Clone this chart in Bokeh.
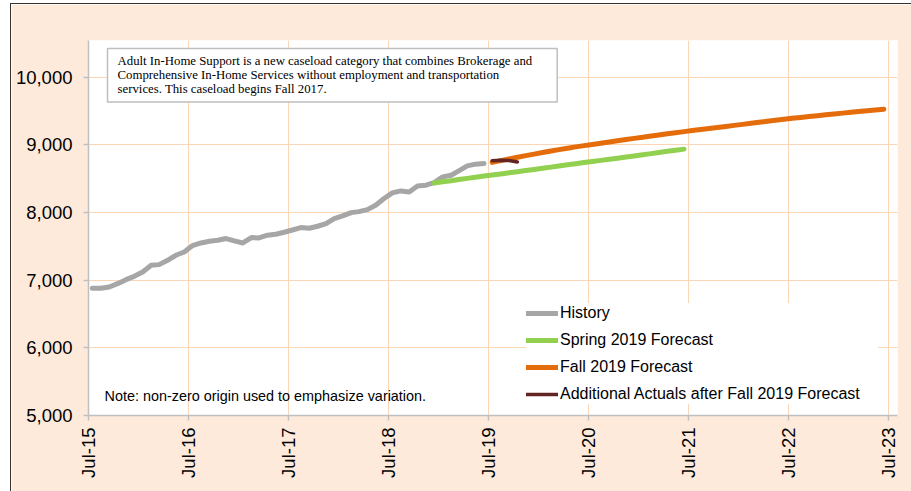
import math
import pandas as pd
from bokeh.plotting import figure
from bokeh.models import (Range1d, FixedTicker, DatetimeTickFormatter, NumeralTickFormatter,
                          Legend, LegendItem, Label)
from bokeh.embed import file_html
from bokeh.resources import INLINE

# ---------------- data ----------------
history_start = "2015-07-01"
history = [6879, 6879, 6898, 6948, 7007, 7056, 7120, 7219, 7229, 7293, 7367, 7416,
           7510, 7549, 7574, 7589, 7614, 7579, 7549, 7628, 7623, 7663, 7677, 7707,
           7740, 7776, 7766, 7796, 7835, 7909, 7948, 7997, 8012, 8042, 8106, 8205,
           8288, 8318, 8303, 8392, 8402, 8442, 8525, 8550, 8614, 8688, 8713, 8723]

spring_start = "2018-12-01"
spring = [8435, 8452, 8469, 8486, 8503, 8520, 8537, 8553, 8569, 8585, 8601, 8618,
          8635, 8652, 8669, 8686, 8703, 8720, 8737, 8753, 8769, 8785, 8801, 8818,
          8835, 8852, 8869, 8886, 8903, 8919, 8935]

fall_start = "2019-07-01"
fall = [8740, 8766, 8791, 8815, 8839, 8862, 8885, 8907, 8928, 8948, 8968, 8987,
        9005, 9023, 9041, 9059, 9077, 9094, 9111, 9128, 9145, 9162, 9178, 9194,
        9210, 9226, 9241, 9256, 9271, 9286, 9301, 9316, 9331, 9346, 9361, 9376,
        9390, 9403, 9416, 9429, 9442, 9455, 9467, 9479, 9491, 9503, 9514, 9525]

actuals_start = "2019-07-01"
actuals = [8765, 8772, 8768, 8745]

tick_dates = ["2015-07-01", "2016-07-01", "2017-07-01", "2018-07-01", "2019-07-01",
              "2020-07-01", "2021-07-01", "2022-07-01", "2023-07-01"]
y_ticks = [5000, 6000, 7000, 8000, 9000, 10000]

series_names = ["History", "Spring 2019 Forecast", "Fall 2019 Forecast",
                "Additional Actuals after Fall 2019 Forecast"]
series_colors = ["#A6A6A6", "#92D050", "#E46C0A", "#632523"]

note_text = ("Adult In-Home Support is a new caseload category that combines Brokerage and\n"
             "Comprehensive In-Home Services without employment and transportation\n"
             "services. This caseload begins Fall 2017.")
origin_note = "Note: non-zero origin used to emphasize variation."


def monthly(start, n):
    # values are plotted at mid-month
    return pd.date_range(start, periods=n, freq="MS") + pd.Timedelta(days=14)


# ---------------- figure ----------------
PEACH = "#FDEADB"
GRID = "#FCD5B4"
AXIS = "#BFBFBF"

p = figure(x_axis_type="datetime",
           x_range=Range1d(pd.Timestamp("2015-07-01"), pd.Timestamp("2023-08-04")),
           y_range=Range1d(5000, 10540),
           frame_width=809, frame_height=375,
           min_border_left=77, min_border_right=14, min_border_top=36, min_border_bottom=76,
           output_backend="svg", toolbar_location=None,
           background_fill_color="white", border_fill_color=PEACH,
           outline_line_color=None,
           styles={"margin-left": "10px", "margin-top": "3px",
                   "border-left": "1px solid #333333", "border-top": "1px solid #333333"})

tick_ms = [pd.Timestamp(d).value // 10**6 for d in tick_dates]
p.xaxis.ticker = FixedTicker(ticks=tick_ms)
fmt = "%b-%y"
p.xaxis.formatter = DatetimeTickFormatter(years=fmt, months=fmt, days=fmt, hours=fmt,
                                          hourmin=fmt, minutes=fmt, minsec=fmt,
                                          seconds=fmt, milliseconds=fmt, microseconds=fmt)
p.xaxis.major_label_orientation = math.pi / 2
p.yaxis.ticker = FixedTicker(ticks=y_ticks)
p.yaxis.formatter = NumeralTickFormatter(format="0,0")

for ax in (p.xaxis[0], p.yaxis[0]):
    ax.axis_line_color = AXIS
    ax.axis_line_width = 1.5
    ax.major_tick_line_color = AXIS
    ax.major_tick_line_width = 1.5
    ax.major_tick_out = 5
    ax.major_tick_in = 0
    ax.minor_tick_line_color = None
    ax.major_label_text_font = "Liberation Sans"
    ax.major_label_text_font_size = "18.5px"
    ax.major_label_text_color = "black"
p.xaxis.major_label_standoff = 7
p.yaxis.major_label_standoff = 11

p.xgrid.grid_line_color = GRID
p.ygrid.grid_line_color = GRID
p.xgrid.grid_line_width = 1
p.ygrid.grid_line_width = 1

# ---------------- lines ----------------
renderers = []
for (start, vals, color, width) in [(history_start, history, series_colors[0], 5),
                                    (spring_start, spring, series_colors[1], 5),
                                    (fall_start, fall, series_colors[2], 5),
                                    (actuals_start, actuals, series_colors[3], 3.5)]:
    r = p.line(monthly(start, len(vals)), vals, line_color=color, line_width=width,
               line_cap="round", line_join="round")
    renderers.append(r)

legend = Legend(items=[LegendItem(label=n, renderers=[r]) for n, r in zip(series_names, renderers)],
                location=(438, 11), margin=0, padding=5, spacing=7,
                glyph_width=32, glyph_height=20, label_height=20, label_width=318,
                label_standoff=2, label_text_font="Liberation Sans",
                label_text_font_size="16px", label_text_color="black",
                background_fill_color="white", background_fill_alpha=1,
                border_line_color=None)
p.add_layout(legend)

# ---------------- annotations ----------------
box = Label(x=19, y=367, x_units="screen", y_units="screen", text=note_text,
            text_font="Liberation Serif", text_font_size="12.8px", text_color="black",
            text_align="left", text_baseline="top", text_line_height=1.02,
            background_fill_color="white", border_line_color=AXIS, border_line_width=1.5,
            padding=dict(left=10, right=25, top=5, bottom=6))
p.add_layout(box)

note = Label(x=16, y=20, x_units="screen", y_units="screen", text=origin_note,
             text_font="Liberation Sans", text_font_size="14.4px", text_color="black",
             text_align="left", text_baseline="middle")
p.add_layout(note)

open("out.html", "w").write(file_html(p, INLINE))
